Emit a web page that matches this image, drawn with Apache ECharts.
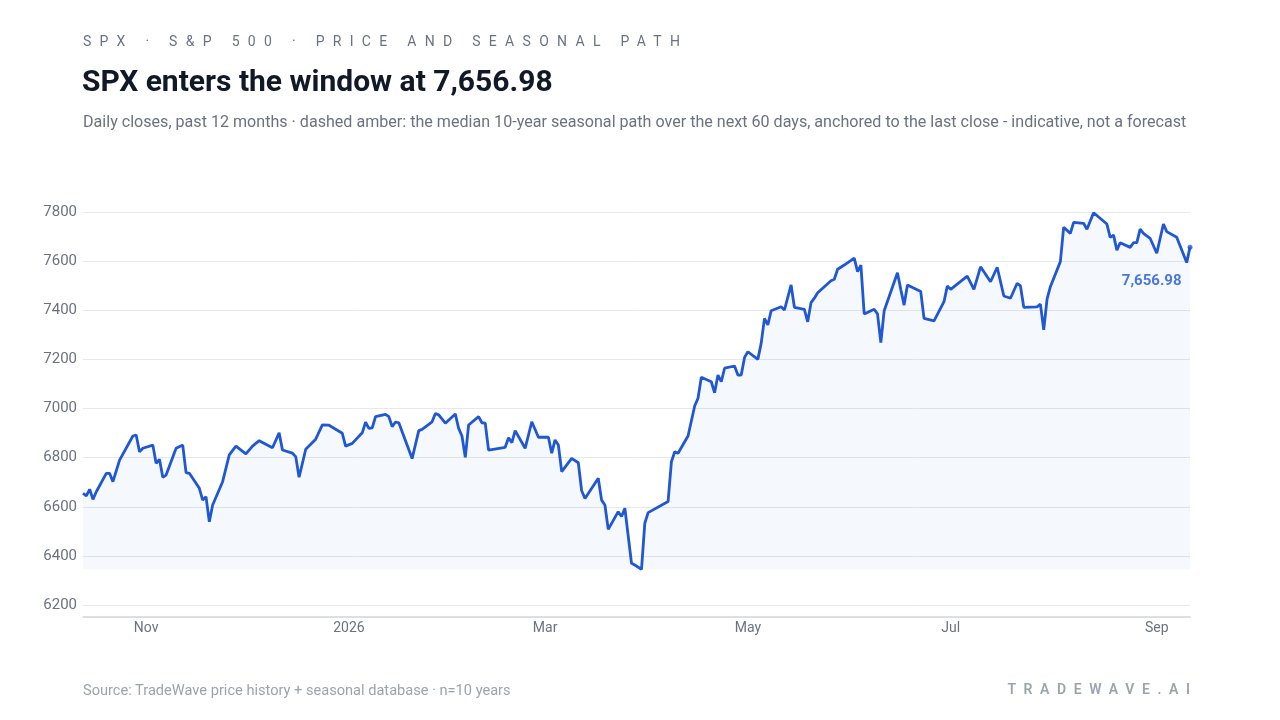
<!DOCTYPE html>
<html>
<head>
<meta charset="utf-8">
<title>SPX price and seasonal path</title>
<script src="https://cdn.jsdelivr.net/npm/echarts@6/dist/echarts.min.js"></script>
<style>
  html, body { margin: 0; padding: 0; background: #ffffff; }
  #wrap { position: relative; width: 1280px; height: 720px; font-family: Roboto, "Noto Sans", sans-serif; }
  #chart { position: absolute; left: 0; top: 0; width: 1280px; height: 720px; }
  .txt { position: absolute; white-space: nowrap; pointer-events: none; }
  #kicker { left: 83px; top: 33px; font-size: 14px; letter-spacing: 8.3px; color: #6b7280; }
  #title { left: 82px; top: 63px; font-size: 30px; font-weight: 700; color: #111827; }
  #subtitle { left: 83px; top: 112px; font-size: 16.1px; color: #6b7280; }
  #source { left: 83px; top: 681px; font-size: 14.6px; color: #9ca3af; }
  #brand { right: 90px; top: 681px; font-size: 14px; font-weight: 600; letter-spacing: 7.6px; color: #9ca3af; margin-right: -7.6px; }
</style>
</head>
<body>
<div id="wrap">
  <div id="chart"></div>
  <div class="txt" id="kicker">SPX · S&amp;P 500 · PRICE AND SEASONAL PATH</div>
  <div class="txt" id="title">SPX enters the window at 7,656.98</div>
  <div class="txt" id="subtitle">Daily closes, past 12 months · dashed amber: the median 10-year seasonal path over the next 60 days, anchored to the last close - indicative, not a forecast</div>
  <div class="txt" id="source">Source: TradeWave price history + seasonal database · n=10 years</div>
  <div class="txt" id="brand">TRADEWAVE.AI</div>
</div>
<script>
// daily closes (turning points)
const dates = [
  '2025-10-13','2025-10-14','2025-10-15','2025-10-16','2025-10-17','2025-10-20','2025-10-21','2025-10-22','2025-10-24','2025-10-28',
  '2025-10-29','2025-10-30','2025-10-31','2025-11-03','2025-11-04','2025-11-05','2025-11-06','2025-11-07','2025-11-10','2025-11-12',
  '2025-11-13','2025-11-14','2025-11-17','2025-11-18','2025-11-19','2025-11-20','2025-11-21','2025-11-24','2025-11-26','2025-11-28',
  '2025-12-01','2025-12-03','2025-12-05','2025-12-09','2025-12-11','2025-12-12','2025-12-15','2025-12-16','2025-12-17','2025-12-19',
  '2025-12-22','2025-12-24','2025-12-26','2025-12-30','2025-12-31','2026-01-02','2026-01-05','2026-01-06','2026-01-07','2026-01-08',
  '2026-01-09','2026-01-12','2026-01-13','2026-01-14','2026-01-15','2026-01-16','2026-01-20','2026-01-22','2026-01-23','2026-01-26',
  '2026-01-27','2026-01-28','2026-01-30','2026-02-02','2026-02-03','2026-02-04','2026-02-05','2026-02-06','2026-02-09','2026-02-10',
  '2026-02-11','2026-02-12','2026-02-17','2026-02-18','2026-02-19','2026-02-20','2026-02-23','2026-02-25','2026-02-27','2026-03-02',
  '2026-03-03','2026-03-04','2026-03-05','2026-03-06','2026-03-09','2026-03-11','2026-03-12','2026-03-13','2026-03-17','2026-03-18',
  '2026-03-19','2026-03-20','2026-03-23','2026-03-24','2026-03-25','2026-03-27','2026-03-28','2026-03-30','2026-03-31','2026-04-01',
  '2026-04-07','2026-04-08','2026-04-09','2026-04-10','2026-04-13','2026-04-15','2026-04-16','2026-04-17','2026-04-20','2026-04-21',
  '2026-04-22','2026-04-23','2026-04-24','2026-04-27','2026-04-28','2026-04-29','2026-04-30','2026-05-01','2026-05-04','2026-05-05',
  '2026-05-06','2026-05-07','2026-05-08','2026-05-11','2026-05-12','2026-05-14','2026-05-15','2026-05-18','2026-05-19','2026-05-20',
  '2026-05-21','2026-05-22','2026-05-26','2026-05-27','2026-05-28','2026-05-30','2026-06-02','2026-06-03','2026-06-04','2026-06-05',
  '2026-06-08','2026-06-09','2026-06-10','2026-06-11','2026-06-15','2026-06-16','2026-06-17','2026-06-18','2026-06-22','2026-06-23',
  '2026-06-26','2026-06-29','2026-06-30','2026-07-01','2026-07-06','2026-07-08','2026-07-10','2026-07-13','2026-07-15','2026-07-17',
  '2026-07-19','2026-07-21','2026-07-22','2026-07-23','2026-07-27','2026-07-28','2026-07-29','2026-07-30','2026-07-31','2026-08-03',
  '2026-08-04','2026-08-06','2026-08-07','2026-08-10','2026-08-11','2026-08-13','2026-08-17','2026-08-18','2026-08-19','2026-08-20',
  '2026-08-21','2026-08-24','2026-08-25','2026-08-26','2026-08-27','2026-08-28','2026-08-30','2026-09-01','2026-09-03','2026-09-04',
  '2026-09-07','2026-09-10','2026-09-11'
];

const closes = [
  6655, 6644, 6671, 6630, 6661, 6736, 6736, 6702, 6790, 6888,
  6892, 6824, 6838, 6851, 6777, 6793, 6720, 6729, 6838, 6851,
  6739, 6736, 6675, 6627, 6641, 6539, 6607, 6702, 6811, 6847,
  6815, 6847, 6869, 6840, 6901, 6831, 6818, 6804, 6720, 6834,
  6875, 6933, 6932, 6899, 6847, 6858, 6901, 6944, 6919, 6921,
  6967, 6976, 6967, 6926, 6945, 6942, 6796, 6910, 6915, 6946,
  6980, 6974, 6940, 6978, 6919, 6888, 6801, 6933, 6967, 6942,
  6940, 6831, 6842, 6881, 6861, 6910, 6838, 6946, 6883, 6883,
  6818, 6872, 6851, 6743, 6797, 6779, 6665, 6634, 6716, 6627,
  6607, 6508, 6580, 6560, 6594, 6370, 6363, 6345, 6533, 6576,
  6621, 6783, 6824, 6818, 6888, 7010, 7042, 7127, 7109, 7064,
  7136, 7109, 7164, 7173, 7136, 7136, 7208, 7231, 7200, 7265,
  7367, 7340, 7398, 7414, 7401, 7503, 7412, 7404, 7353, 7431,
  7449, 7471, 7520, 7526, 7567, 7584, 7612, 7557, 7584, 7385,
  7404, 7385, 7268, 7398, 7553, 7485, 7421, 7503, 7476, 7367,
  7357, 7435, 7499, 7485, 7539, 7485, 7577, 7516, 7575, 7458,
  7449, 7510, 7499, 7412, 7414, 7425, 7320, 7445, 7496, 7598,
  7738, 7713, 7758, 7754, 7730, 7797, 7751, 7697, 7706, 7645,
  7675, 7656, 7675, 7675, 7730, 7713, 7693, 7632, 7751, 7720,
  7697, 7594, 7656.98
];

const yTicks = { min: 6200, max: 7800, step: 200 };
const monthNames = ['Jan','Feb','Mar','Apr','May','Jun','Jul','Aug','Sep','Oct','Nov','Dec'];

const blue = '#1f57d4';
const lastIdx = closes.length - 1;
const lastClose = closes[lastIdx];
const seriesData = dates.map((d, i) => [d, closes[i]]);

const myChart = echarts.init(document.getElementById('chart'));

myChart.setOption({
  animation: false,
  textStyle: { fontFamily: 'Roboto' },
  grid: {
    left: 83,
    right: 90,
    top: 212,
    bottom: 115,
    containLabel: false
  },
  xAxis: {
    type: 'time',
    min: 'dataMin',
    max: 'dataMax',
    offset: 12,
    axisLine: { show: true, lineStyle: { color: '#d1d5db', width: 1.5 } },
    axisTick: { show: false },
    splitLine: { show: false },
    axisLabel: {
      color: '#6b7280',
      fontSize: 14,
      margin: 4,
      // every second month, like the reference
      formatter: function (val) {
        const d = new Date(val);
        const m = d.getMonth();
        if (m % 2 !== 0) return '';
        return m === 0 ? String(d.getFullYear()) : monthNames[m];
      }
    }
  },
  yAxis: {
    type: 'value',
    min: yTicks.min,
    max: yTicks.max,
    interval: yTicks.step,
    axisLine: { show: false },
    axisTick: { show: false },
    axisLabel: {
      color: '#6b7280',
      fontSize: 15,
      margin: 6,
      formatter: function (v) { return String(v); }
    },
    splitLine: { lineStyle: { color: '#e6e8ec', width: 1 } }
  },
  series: [
    {
      name: 'SPX',
      type: 'line',
      data: seriesData,
      showSymbol: false,
      symbol: 'none',
      lineStyle: { color: blue, width: 2.8 },
      areaStyle: { color: 'rgba(31,87,212,0.06)', origin: Math.min.apply(null, closes) },
      z: 3
    },
    {
      name: 'last',
      type: 'scatter',
      data: [[dates[lastIdx], lastClose]],
      symbol: 'circle',
      symbolSize: 5,
      itemStyle: { color: blue },
      label: {
        show: true,
        position: 'left',
        distance: 6,
        offset: [0, 34],
        color: blue,
        fontSize: 15,
        fontWeight: 'bold',
        formatter: function () {
          return lastClose.toLocaleString('en-US', { minimumFractionDigits: 2, maximumFractionDigits: 2 });
        }
      },
      z: 4
    }
  ]
});
</script>
</body>
</html>
